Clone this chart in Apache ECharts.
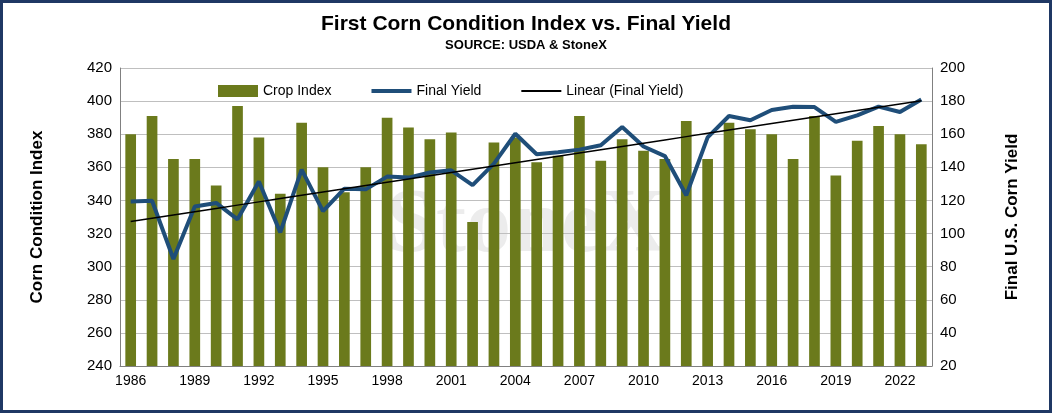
<!DOCTYPE html>
<html><head><meta charset="utf-8">
<script src="https://cdn.jsdelivr.net/npm/echarts@6/dist/echarts.min.js"></script>
<style>
html,body{margin:0;padding:0;background:#fff}
#c{width:1046px;height:407px;border:3px solid #1f3864}
</style></head>
<body><div id="c"></div>
<script>
var years = [];
for (var y = 1986; y <= 2023; y++) years.push(String(y));
var cropIndex = [380,391,365,365,349,397,378,344,387,360,345,360,390,384,377,381,327,375,378,363,
  367,391,364,377,370,365,388,365,387,383,380,365,391,355,376,385,380,374];
var finalYield = [119.4,119.8,84.6,116.3,118.5,108.6,131.5,100.7,138.6,113.5,127.1,126.7,134.4,133.8,
  136.9,138.2,129.3,142.2,160.3,147.9,149.1,150.7,153.3,164.4,152.6,146.8,123.1,158.1,171.0,168.4,
  174.6,176.6,176.4,167.5,171.4,176.7,173.4,181];

// Excel style linear trendline of yield
var n = finalYield.length, sx = 0, sy = 0, sxy = 0, sxx = 0;
finalYield.forEach(function (v, i) { sx += i; sy += v; sxy += i * v; sxx += i * i; });
var slope = (n * sxy - sx * sy) / (n * sxx - sx * sx);
var icpt = (sy - slope * sx) / n;
var trend = finalYield.map(function (v, i) { return +(icpt + slope * i).toFixed(2); });

var chart = echarts.init(document.getElementById('c'));
chart.setOption({
  animation: false,
  textStyle: { fontFamily: 'Arial, Liberation Sans, sans-serif' },
  title: {
    text: 'First Corn Condition Index vs. Final Yield',
    subtext: 'SOURCE: USDA & StoneX',
    left: 'center', top: 6, itemGap: 4,
    textStyle: { fontSize: 21, fontWeight: 'bold', color: '#000' },
    subtextStyle: { fontSize: 13, fontWeight: 'bold', color: '#000' }
  },
  graphic: [{
    type: 'text', left: 'center', top: 180,
    style: { text: 'StoneX', fontSize: 90, fontWeight: 'bold', fontFamily: 'Liberation Serif',
      fill: 'rgba(180,180,180,0.25)' }, z: 0
  }],
  legend: {
    top: 76, left: 210, itemGap: 40, itemWidth: 40, itemHeight: 12,
    textStyle: { fontSize: 14, color: '#000' },
    data: [
      { name: 'Crop Index', icon: 'rect' },
      { name: 'Final Yield', icon: 'path://M0,4L40,4L40,8L0,8Z', itemStyle: { color: '#1f4e79' } },
      { name: 'Linear (Final Yield)', icon: 'path://M0,5L40,5L40,7L0,7Z', itemStyle: { color: '#000' } }
    ]
  },
  grid: { left: 117, right: 117, top: 65, bottom: 44 },
  xAxis: {
    type: 'category', data: years,
    axisLine: { lineStyle: { color: '#808080' } },
    axisTick: { show: false },
    axisLabel: { interval: 2, fontSize: 14, color: '#000' }
  },
  yAxis: [{
    type: 'value', min: 240, max: 420, interval: 20,
    name: 'Corn Condition Index', nameLocation: 'middle', nameGap: 74,
    nameTextStyle: { fontSize: 17, fontWeight: 'bold', color: '#000' },
    axisLabel: { fontSize: 15, color: '#000' },
    axisLine: { show: true, lineStyle: { color: '#808080' } },
    splitLine: { lineStyle: { color: '#bfbfbf' } }
  }, {
    type: 'value', min: 20, max: 200, interval: 20,
    name: 'Final U.S. Corn Yield', nameLocation: 'middle', nameGap: 72, nameRotate: 90,
    nameTextStyle: { fontSize: 17, fontWeight: 'bold', color: '#000' },
    axisLabel: { fontSize: 15, color: '#000' },
    axisLine: { show: true, lineStyle: { color: '#808080' } },
    splitLine: { show: false }
  }],
  series: [{
    name: 'Crop Index', type: 'bar', data: cropIndex, barWidth: '50%',
    itemStyle: { color: '#6b7a1c' }
  }, {
    name: 'Final Yield', type: 'line', yAxisIndex: 1, data: finalYield,
    symbol: 'none', lineStyle: { color: '#1f4e79', width: 4 }
  }, {
    name: 'Linear (Final Yield)', type: 'line', yAxisIndex: 1, data: trend,
    symbol: 'none', lineStyle: { color: '#000', width: 1.5 }
  }]
});
</script></body></html>
